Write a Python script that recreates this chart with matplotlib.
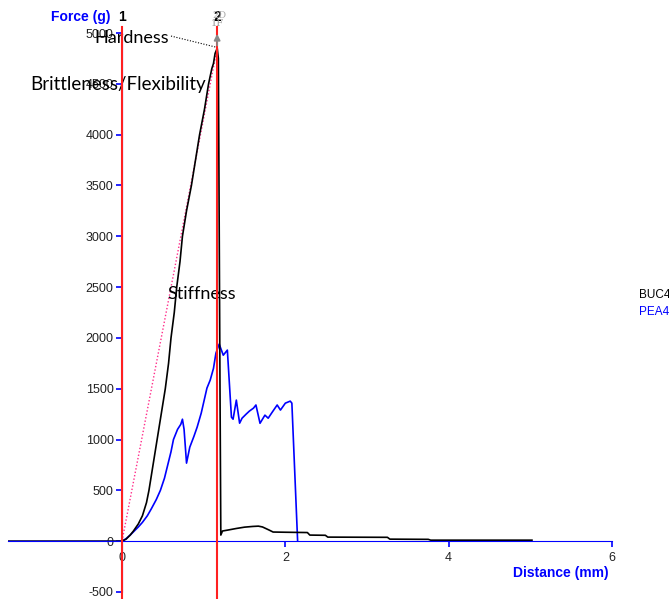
import matplotlib
matplotlib.use("Agg")
import matplotlib.pyplot as plt

plt.rcParams["axes.unicode_minus"] = False
plt.rcParams["font.family"] = ["Liberation Sans", "DejaVu Sans"]

# BUC4 (black) force/distance trace
buc_x = [0, 0.05, 0.10, 0.14, 0.20, 0.25, 0.30, 0.33, 0.38, 0.43, 0.48, 0.53, 0.57, 0.60, 0.64,
         0.67, 0.71, 0.74, 0.79, 0.85, 0.90, 0.95, 1.01, 1.06, 1.10, 1.12, 1.14, 1.166, 1.18, 1.20,
         1.21, 1.23, 1.30, 1.40, 1.50, 1.60, 1.67, 1.72, 1.80, 1.85, 2.00, 2.27, 2.30, 2.49, 2.52,
         3.25, 3.28, 3.75, 3.78, 5.02]
buc_y = [0, 20, 60, 100, 170, 250, 380, 500, 750, 1000, 1250, 1500, 1750, 2000, 2250,
         2500, 2750, 3000, 3250, 3500, 3750, 4000, 4250, 4500, 4650, 4700, 4800, 4850, 4750, 1500,
         60, 100, 110, 125, 138, 145, 148, 140, 110, 90, 88, 85, 60, 58, 40,
         38, 20, 18, 10, 10]

# PEA4 (blue) trace
pea_x = [0, 0.05, 0.10, 0.15, 0.20, 0.25, 0.31, 0.36, 0.42, 0.47, 0.52, 0.56, 0.60, 0.63, 0.68,
         0.72, 0.74, 0.76, 0.79, 0.83, 0.88, 0.92, 0.97, 1.04, 1.08, 1.12, 1.15, 1.19, 1.24, 1.29,
         1.34, 1.36, 1.40, 1.44, 1.47, 1.52, 1.56, 1.61, 1.64, 1.69, 1.75, 1.79, 1.84, 1.90, 1.94,
         2.00, 2.06, 2.08, 2.15]
pea_y = [0, 25, 60, 100, 140, 185, 250, 320, 410, 500, 620, 750, 880, 1000, 1100,
         1150, 1200, 1100, 768, 925, 1030, 1122, 1260, 1506, 1585, 1700, 1850, 1939, 1830, 1880,
         1220, 1200, 1388, 1161, 1210, 1250, 1280, 1309, 1340, 1160, 1240, 1210, 1270, 1340, 1290,
         1358, 1378, 1358, 10]

x_ticks = [0, 2, 4, 6]
y_ticks = list(range(-500, 5001, 500))
markers = [0, 1.165]
marker_labels = ["1", "2"]
peak = (1.165, 4850)

fig = plt.figure(figsize=(6.69, 5.99), dpi=100)
ax = fig.add_axes([8 / 669, 7 / 599, 604 / 669, 559 / 599])
ax.set_xlim(-1.396, 6)
ax.set_ylim(-500, 5000)

for s in ["top", "right"]:
    ax.spines[s].set_visible(False)
ax.spines["left"].set_position(("data", 0))
ax.spines["bottom"].set_position(("data", 0))
ax.spines["left"].set_color("blue")
ax.spines["bottom"].set_color("blue")
ax.set_xticks(x_ticks)
ax.set_yticks(y_ticks)
ax.tick_params(axis="both", colors="blue", labelcolor="#222222", labelsize=9,
               direction="out", length=4.5, width=1.2)
ax.tick_params(axis="y", pad=1.5)
ax.tick_params(axis="x", pad=3)

# baseline left of origin
ax.plot([-1.396, 0], [0, 0], color="#101040", lw=1.2)

# pink slope line and hardness pointer
ax.plot([0, peak[0]], [0, peak[1]], color="#ff2d8a", lw=1, ls=(0, (1, 1.5)))
ax.plot([0.60, peak[0] - 0.01], [4970, peak[1] + 10], color="black", lw=0.8, ls=(0, (1, 1.5)))

ax.plot(pea_x, pea_y, color="blue", lw=1.2)
ax.plot(buc_x, buc_y, color="black", lw=1.2)

for m, lab in zip(markers, marker_labels):
    ax.plot([m, m], [-570, 5060], color="#ff2020", lw=1.5, clip_on=False, zorder=5)
    ax.text(m, 5160, lab, fontsize=10, fontweight="bold", ha="center", va="center")

# grey peak arrow
ax.annotate("", xy=(peak[0], 5020), xytext=peak,
            arrowprops=dict(arrowstyle="-|>", color="#888888", lw=1.3, mutation_scale=9),
            annotation_clip=False, zorder=6)
ax.text(peak[0], 5090, "1F", fontsize=7, color="#999999", ha="center", va="center",
        family="DejaVu Serif")
ax.text(peak[0] + 0.03, 5170, "2D", fontsize=7, color="#aaaaaa", ha="center", va="center",
        family="DejaVu Serif")

ax.text(-0.51, 5160, "Force (g)", fontsize=10, fontweight="bold", color="blue",
        ha="center", va="center")
ax.text(5.96, -310, "Distance (mm)", fontsize=10, fontweight="bold", color="blue",
        ha="right", va="center")

ax.text(-0.34, 4950, "Hardness", fontsize=13, ha="left", va="center", family="Lato")
ax.text(-1.12, 4490, "Brittleness/Flexibility", fontsize=13.5, ha="left", va="center",
        family="Lato")
ax.text(0.56, 2430, "Stiffness", fontsize=13, ha="left", va="center", family="Lato")

fig.text(639 / 669, 1 - 295 / 599, "BUC4", fontsize=8.5, color="black", va="center")
fig.text(639 / 669, 1 - 312 / 599, "PEA4", fontsize=8.5, color="blue", va="center")

fig.savefig("out.png", dpi=100)
